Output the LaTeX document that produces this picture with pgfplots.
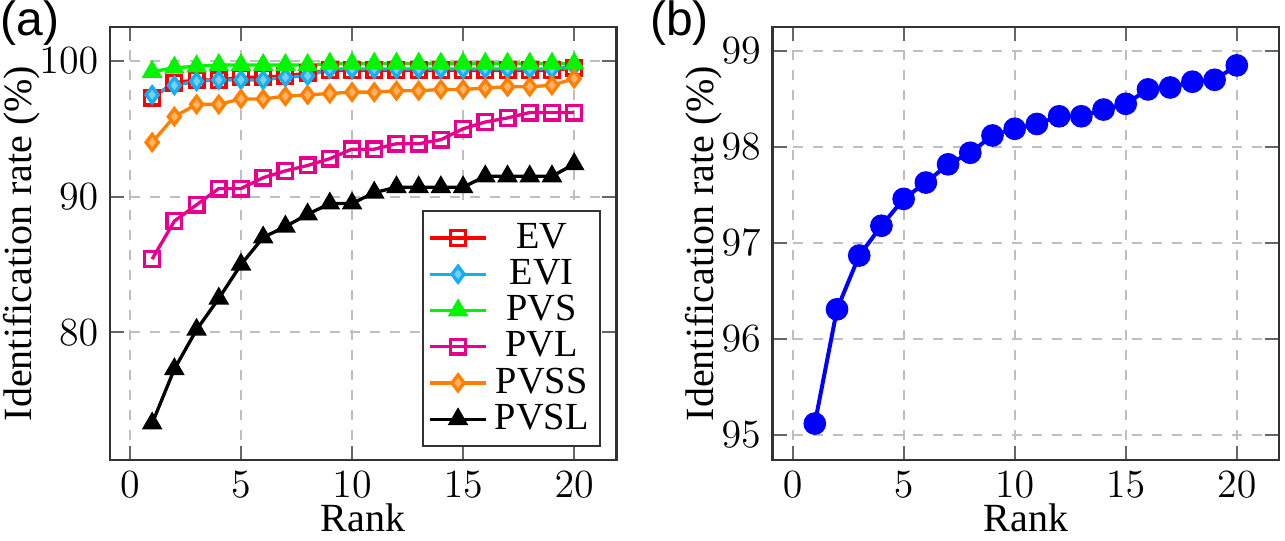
\documentclass[border=0pt]{standalone}
\usepackage[no-math]{fontspec}
\setmainfont{Liberation Serif}
\newfontfamily\panelfont{Liberation Sans}
\usepackage{pgfplots}
\pgfplotsset{compat=1.18}

\definecolor{cEV}{RGB}{255,0,0}
\definecolor{cEVI}{RGB}{20,175,240}
\definecolor{cPVS}{RGB}{0,245,0}
\definecolor{cPVL}{RGB}{230,0,140}
\definecolor{cPVSS}{RGB}{255,128,0}
\definecolor{cB}{RGB}{0,0,255}

\pgfplotsset{
  rankaxis/.style={
    scale only axis,
    width=152pt, height=130pt,
    xmin=-0.9, xmax=21.9,
    xtick={0,5,10,15,20},
    tick align=inside,
    grid=major,
    major grid style={dashed, gray!50, line width=0.6pt},
    axis line style={line width=0.8pt, black!80},
    major tick style={line width=0.6pt, black!60},
    tick label style={font=\large},
    xlabel={\large Rank},
    ylabel={\large Identification rate (\%)},
    xlabel style={yshift=5pt},
    ylabel style={yshift=-7pt},
  }
}

\begin{document}
\begin{tikzpicture}
\useasboundingbox (-33pt,-24pt) rectangle (352.7pt,138.1pt);

\begin{axis}[rankaxis,
  ymin=70.6, ymax=102.5,
  ytick={80,90,100},
  legend style={at={(0.97,0.03)}, anchor=south east, font=\fontsize{11.5}{13}\selectfont,
    draw=black!80, line width=0.6pt, row sep=-2.2pt, inner sep=1.5pt},
  legend cell align=center,
  every axis plot/.append style={line width=1pt},
]
\addplot[color=cEV, mark=square, mark size=2.2pt, mark options={solid, line width=1pt}]
  table[row sep=crcr]{%
1 97.3\\ 2 98.4\\ 3 98.6\\ 4 98.6\\ 5 98.8\\ 6 98.8\\ 7 98.9\\ 8 99.1\\ 9 99.3\\ 10 99.3\\
11 99.3\\ 12 99.3\\ 13 99.3\\ 14 99.3\\ 15 99.3\\ 16 99.3\\ 17 99.3\\ 18 99.3\\ 19 99.3\\ 20 99.5\\
};
\addlegendentry{EV}
\addplot[color=cEVI, mark=diamond*, mark size=2.4pt, mark options={solid, fill=cEVI!60!white}]
  table[row sep=crcr]{%
1 97.5\\ 2 98.2\\ 3 98.5\\ 4 98.6\\ 5 98.6\\ 6 98.6\\ 7 98.8\\ 8 98.9\\ 9 99.4\\ 10 99.4\\
11 99.4\\ 12 99.4\\ 13 99.4\\ 14 99.4\\ 15 99.4\\ 16 99.4\\ 17 99.4\\ 18 99.4\\ 19 99.4\\ 20 99.6\\
};
\addlegendentry{EVI}
\addplot[color=cPVS, mark=triangle*, mark size=2.6pt, mark options={solid}]
  table[row sep=crcr]{%
1 99.2\\ 2 99.5\\ 3 99.6\\ 4 99.7\\ 5 99.7\\ 6 99.7\\ 7 99.7\\ 8 99.7\\ 9 99.8\\ 10 99.8\\
11 99.8\\ 12 99.8\\ 13 99.8\\ 14 99.8\\ 15 99.8\\ 16 99.8\\ 17 99.8\\ 18 99.8\\ 19 99.8\\ 20 99.8\\
};
\addlegendentry{PVS}
\addplot[color=cPVL, mark=square, mark size=2.2pt, mark options={solid, line width=1pt}]
  table[row sep=crcr]{%
1 85.4\\ 2 88.2\\ 3 89.4\\ 4 90.6\\ 5 90.6\\ 6 91.4\\ 7 91.9\\ 8 92.3\\ 9 92.8\\ 10 93.5\\
11 93.5\\ 12 93.9\\ 13 93.9\\ 14 94.2\\ 15 95.0\\ 16 95.5\\ 17 95.8\\ 18 96.2\\ 19 96.2\\ 20 96.2\\
};
\addlegendentry{PVL}
\addplot[color=cPVSS, mark=diamond*, mark size=2.4pt, mark options={solid, fill=cPVSS!60!white}]
  table[row sep=crcr]{%
1 94.0\\ 2 95.9\\ 3 96.8\\ 4 96.8\\ 5 97.2\\ 6 97.2\\ 7 97.4\\ 8 97.5\\ 9 97.6\\ 10 97.7\\
11 97.7\\ 12 97.8\\ 13 97.8\\ 14 97.9\\ 15 97.9\\ 16 98.0\\ 17 98.1\\ 18 98.1\\ 19 98.2\\ 20 98.7\\
};
\addlegendentry{PVSS}
\addplot[color=black, mark=triangle*, mark size=2.6pt, mark options={solid}]
  table[row sep=crcr]{%
1 73.3\\ 2 77.3\\ 3 80.2\\ 4 82.5\\ 5 85.0\\ 6 87.0\\ 7 87.8\\ 8 88.7\\ 9 89.5\\ 10 89.5\\
11 90.3\\ 12 90.7\\ 13 90.7\\ 14 90.7\\ 15 90.7\\ 16 91.5\\ 17 91.5\\ 18 91.5\\ 19 91.5\\ 20 92.4\\
};
\addlegendentry{PVSL}
\end{axis}

\begin{axis}[rankaxis, xshift=198.9pt,
  ymin=94.74, ymax=99.25,
  ytick={95,96,97,98,99},
]
\addplot[color=cB, line width=1.2pt, mark=*, mark size=2.8pt, mark options={solid, fill=cB}]
  table[row sep=crcr]{%
1 95.12\\ 2 96.31\\ 3 96.87\\ 4 97.18\\ 5 97.46\\ 6 97.63\\ 7 97.82\\ 8 97.94\\ 9 98.12\\ 10 98.19\\
11 98.24\\ 12 98.32\\ 13 98.32\\ 14 98.39\\ 15 98.45\\ 16 98.60\\ 17 98.62\\ 18 98.68\\ 19 98.70\\ 20 98.85\\
};
\end{axis}

\node[anchor=north west, inner sep=0pt, font=\panelfont\Large] at (-33pt,138.1pt) {(a)};
\node[anchor=north west, inner sep=0pt, font=\panelfont\Large] at (162pt,138.1pt) {(b)};
\end{tikzpicture}
\end{document}
